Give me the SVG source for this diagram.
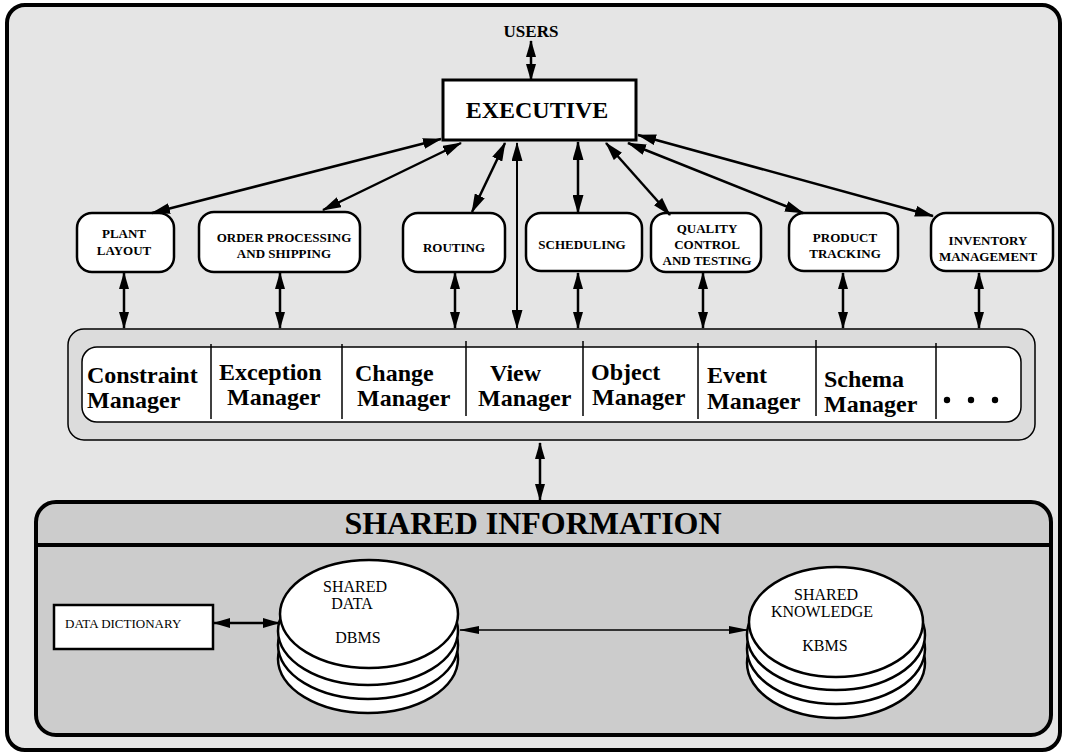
<svg xmlns="http://www.w3.org/2000/svg" width="1066" height="754" viewBox="0 0 1066 754">
<style>
text{font-family:"Liberation Serif","Times New Roman",serif;fill:#000}
.b{font-weight:bold}
.app{font-size:13px;font-weight:bold;text-anchor:middle}
.mgr{font-size:24px;font-weight:bold}
.appbox{fill:#fff;stroke:#000;stroke-width:2.5}
.ln{fill:none;stroke:#000;stroke-width:2.5}
.thin{fill:none;stroke:#000;stroke-width:1.5}
.cyl{fill:#fff;stroke:#000;stroke-width:2.5}
.db{font-size:16px;text-anchor:middle}
</style>
<defs>
<marker id="ah" markerUnits="userSpaceOnUse" viewBox="0 0 19 11" refX="18" refY="5.5" markerWidth="19" markerHeight="11" orient="auto-start-reverse"><path d="M0,0 L19,5.5 L0,11 z" fill="#000"/></marker>
<marker id="as" markerUnits="userSpaceOnUse" viewBox="0 0 17 10" refX="16" refY="5" markerWidth="17" markerHeight="10" orient="auto-start-reverse"><path d="M0,0 L17,5 L0,10 z" fill="#000"/></marker>
<marker id="al" markerUnits="userSpaceOnUse" viewBox="0 0 20 8" refX="19" refY="4" markerWidth="20" markerHeight="8" orient="auto-start-reverse"><path d="M0,0 L20,4 L0,8 z" fill="#000"/></marker>
</defs>

<rect id="frame" x="7" y="5" width="1053" height="745" rx="18" fill="#e5e5e5" stroke="#000" stroke-width="4"/>

<g id="users"><text class="b" x="531" y="37" font-size="17" text-anchor="middle">USERS</text></g>

<g id="executive">
<rect x="443" y="80" width="193" height="60" fill="#fff" stroke="#000" stroke-width="3"/>
<text class="b" x="537" y="118" font-size="24" text-anchor="middle">EXECUTIVE</text>
</g>

<g id="plant-layout"><rect class="appbox" x="77" y="213" width="97" height="59" rx="15"/>
<text class="app" x="124" y="238">PLANT</text><text class="app" x="124" y="255">LAYOUT</text></g>
<g id="order-processing"><rect class="appbox" x="199" y="212" width="161" height="60" rx="15"/>
<text class="app" x="284" y="242">ORDER PROCESSING</text><text class="app" x="284" y="258">AND SHIPPING</text></g>
<g id="routing"><rect class="appbox" x="403" y="213" width="102" height="59" rx="15"/>
<text class="app" x="454" y="252">ROUTING</text></g>
<g id="scheduling"><rect class="appbox" x="526" y="213" width="116" height="58" rx="15"/>
<text class="app" x="582" y="249">SCHEDULING</text></g>
<g id="quality-control"><rect class="appbox" x="651" y="213" width="110" height="59" rx="15"/>
<text class="app" x="707" y="233">QUALITY</text><text class="app" x="707" y="249">CONTROL</text><text class="app" x="707" y="265">AND TESTING</text></g>
<g id="product-tracking"><rect class="appbox" x="789" y="213" width="109" height="58" rx="15"/>
<text class="app" x="845" y="242">PRODUCT</text><text class="app" x="845" y="258">TRACKING</text></g>
<g id="inventory-management"><rect class="appbox" x="931" y="213" width="122" height="58" rx="15"/>
<text class="app" x="988" y="245">INVENTORY</text><text class="app" x="988" y="261">MANAGEMENT</text></g>

<g id="managers">
<rect x="68" y="329" width="967" height="111" rx="16" fill="#dcdcdc" stroke="#000" stroke-width="1.5"/>
<rect x="82" y="347" width="939" height="75" rx="15" fill="#fff" stroke="#000" stroke-width="1.5"/>
<g class="thin">
<line x1="211" y1="344" x2="211" y2="419"/><line x1="342" y1="344" x2="342" y2="419"/>
<line x1="466" y1="341" x2="466" y2="416"/><line x1="583" y1="341" x2="583" y2="416"/>
<line x1="698" y1="343" x2="698" y2="419"/><line x1="816" y1="340" x2="816" y2="416"/>
<line x1="936" y1="343" x2="936" y2="419"/>
</g>
<g id="constraint-manager"><text class="mgr" x="87" y="383">Constraint</text><text class="mgr" x="87" y="408">Manager</text></g>
<g id="exception-manager"><text class="mgr" x="219" y="380">Exception</text><text class="mgr" x="227" y="405">Manager</text></g>
<g id="change-manager"><text class="mgr" x="355" y="381">Change</text><text class="mgr" x="357" y="406">Manager</text></g>
<g id="view-manager"><text class="mgr" x="490" y="381">View</text><text class="mgr" x="478" y="406">Manager</text></g>
<g id="object-manager"><text class="mgr" x="591" y="380">Object</text><text class="mgr" x="592" y="405">Manager</text></g>
<g id="event-manager"><text class="mgr" x="707" y="383">Event</text><text class="mgr" x="707" y="409">Manager</text></g>
<g id="schema-manager"><text class="mgr" x="824" y="387">Schema</text><text class="mgr" x="824" y="412">Manager</text></g>
<g id="more-managers" fill="#000"><circle cx="947" cy="400" r="3.2"/><circle cx="971" cy="400" r="3.2"/><circle cx="995" cy="400" r="3.2"/></g>
</g>

<g id="shared-information">
<rect x="36" y="502" width="1015" height="233" rx="20" fill="#cccccc" stroke="#000" stroke-width="4"/>
<line x1="36" y1="545" x2="1051" y2="545" stroke="#000" stroke-width="4"/>
<text class="b" x="533" y="534" font-size="32" text-anchor="middle">SHARED INFORMATION</text>
</g>

<g id="data-dictionary">
<rect x="54" y="605" width="159" height="44" fill="#fff" stroke="#000" stroke-width="2.5"/>
<text x="65" y="628" font-size="13">DATA DICTIONARY</text>
</g>

<g id="shared-data">
<ellipse class="cyl" cx="368" cy="659" rx="90" ry="54"/>
<ellipse class="cyl" cx="368" cy="645" rx="90" ry="54"/>
<ellipse class="cyl" cx="368" cy="631" rx="90" ry="54"/>
<ellipse class="cyl" cx="369" cy="614" rx="89" ry="54"/>
<text class="db" x="355" y="592">SHARED</text><text class="db" x="352" y="609">DATA</text><text class="db" x="358" y="643">DBMS</text>
</g>

<g id="shared-knowledge">
<ellipse class="cyl" cx="836" cy="663" rx="89" ry="55"/>
<ellipse class="cyl" cx="836" cy="649" rx="89" ry="55"/>
<ellipse class="cyl" cx="836" cy="635" rx="89" ry="55"/>
<ellipse class="cyl" cx="836" cy="622" rx="87" ry="55"/>
<text class="db" x="826" y="600">SHARED</text><text class="db" x="822" y="617">KNOWLEDGE</text><text class="db" x="825" y="651">KBMS</text>
</g>

<g id="connectors">
<line class="ln" x1="531" y1="41" x2="531" y2="80" marker-start="url(#as)" marker-end="url(#as)"/>
<line class="ln" x1="441" y1="139" x2="152" y2="213" marker-start="url(#ah)" marker-end="url(#ah)"/>
<line class="ln" x1="461" y1="143" x2="323" y2="210" marker-start="url(#ah)" marker-end="url(#ah)"/>
<line class="ln" x1="505" y1="143" x2="472" y2="212" marker-start="url(#ah)" marker-end="url(#ah)"/>
<line x1="517" y1="143" x2="517" y2="328" stroke="#000" stroke-width="2" marker-start="url(#ah)" marker-end="url(#ah)"/>
<line class="ln" x1="578" y1="142" x2="578" y2="213" marker-start="url(#ah)" marker-end="url(#ah)"/>
<line class="ln" x1="606" y1="143" x2="670" y2="215" marker-start="url(#ah)" marker-end="url(#ah)"/>
<line class="ln" x1="628" y1="143" x2="803" y2="213" marker-start="url(#ah)" marker-end="url(#ah)"/>
<line class="ln" x1="638" y1="135" x2="933" y2="216" marker-start="url(#ah)" marker-end="url(#ah)"/>
<line class="ln" x1="124" y1="273" x2="124" y2="328" marker-start="url(#as)" marker-end="url(#as)"/>
<line class="ln" x1="280" y1="273" x2="280" y2="328" marker-start="url(#as)" marker-end="url(#as)"/>
<line class="ln" x1="455" y1="273" x2="455" y2="328" marker-start="url(#as)" marker-end="url(#as)"/>
<line class="ln" x1="578" y1="273" x2="578" y2="328" marker-start="url(#as)" marker-end="url(#as)"/>
<line class="ln" x1="703" y1="273" x2="703" y2="328" marker-start="url(#as)" marker-end="url(#as)"/>
<line class="ln" x1="843" y1="273" x2="843" y2="328" marker-start="url(#as)" marker-end="url(#as)"/>
<line class="ln" x1="979" y1="273" x2="979" y2="328" marker-start="url(#as)" marker-end="url(#as)"/>
<line class="ln" x1="540" y1="443" x2="540" y2="500" marker-start="url(#as)" marker-end="url(#as)"/>
<line class="ln" x1="214" y1="623" x2="279" y2="623" marker-start="url(#as)" marker-end="url(#as)"/>
<line class="thin" x1="460" y1="630" x2="748" y2="630" marker-start="url(#al)" marker-end="url(#al)"/>
</g>
</svg>
